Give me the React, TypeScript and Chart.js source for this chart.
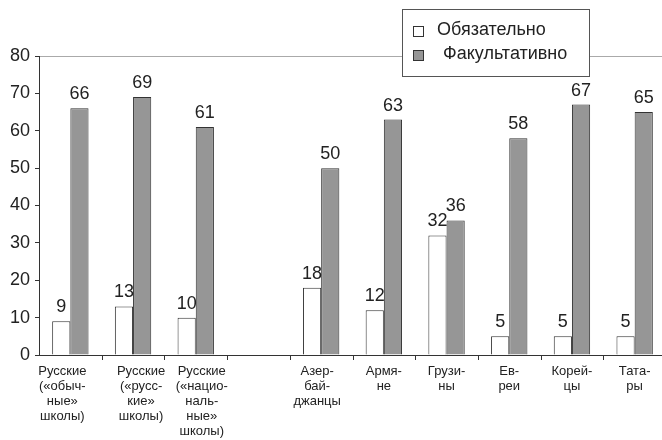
import React, { useEffect, useRef } from "react";
import { Chart, registerables } from "chart.js";

Chart.register(...registerables);

const categories: string[][] = [
  ["Русские", "(«обыч-", "ные»", "школы)"],
  ["Русские", "(«русс-", "кие»", "школы)"],
  ["Русские", "(«нацио-", "наль-", "ные»", "школы)"],
  [""],
  ["Азер-", "бай-", "джанцы"],
  ["Армя-", "не"],
  ["Грузи-", "ны"],
  ["Ев-", "реи"],
  ["Корей-", "цы"],
  ["Тата-", "ры"],
];
const mandatory: (number | null)[] = [9, 13, 10, null, 18, 12, 32, 5, 5, 5];
const optional: (number | null)[] = [66, 69, 61, null, 50, 63, 36, 58, 67, 65];
const seriesNames = ["Обязательно", "Факультативно"];
const yMin = 0;
const yMax = 80;
const yStep = 10;

const FONT = "Arial, 'Liberation Sans', sans-serif";
const TEXT = "#222";
// small horizontal nudges of the category captions, as in the original layout
const captionNudge = [-8, 8, 6, 0, -4, 0, 0, 0, 0, 0];

const valueLabels = {
  id: "valueLabels",
  afterDatasetsDraw(chart: any) {
    const ctx = chart.ctx;
    ctx.save();
    ctx.font = `18px ${FONT}`;
    ctx.fillStyle = TEXT;
    ctx.textAlign = "center";
    ctx.textBaseline = "bottom";
    chart.data.datasets.forEach((ds: any, di: number) => {
      const meta = chart.getDatasetMeta(di);
      meta.data.forEach((bar: any, i: number) => {
        const v = ds.data[i];
        if (v === null || v === undefined) return;
        ctx.fillText(String(v), bar.x, bar.y - 5);
      });
    });
    ctx.restore();
  },
};

const categoryAxis = {
  id: "categoryAxis",
  afterDraw(chart: any) {
    const x = chart.scales.x;
    const ctx = chart.ctx;
    const labels = chart.data.labels as string[][];
    const n = labels.length;
    const bottom = chart.chartArea.bottom;
    const half = (x.getPixelForValue(1) - x.getPixelForValue(0)) / 2;
    ctx.save();
    ctx.strokeStyle = "#333";
    ctx.lineWidth = 1;
    ctx.beginPath();
    for (let i = 1; i <= n; i++) {
      const px = Math.round(x.getPixelForValue(i) - half) + 0.5;
      ctx.moveTo(px, bottom);
      ctx.lineTo(px, bottom + 5);
    }
    ctx.stroke();
    ctx.font = `13px ${FONT}`;
    ctx.fillStyle = TEXT;
    ctx.textAlign = "center";
    ctx.textBaseline = "middle";
    labels.forEach((lines, i) => {
      const cx = x.getPixelForValue(i) + captionNudge[i];
      lines.forEach((line, j) => {
        ctx.fillText(line, cx, bottom + 16 + j * 15);
      });
    });
    ctx.restore();
  },
};

const boxLegend = {
  id: "boxLegend",
  afterDraw(chart: any) {
    const ctx = chart.ctx;
    ctx.save();
    const x = 402.5, y = 9.5, w = 187, h = 67;
    ctx.fillStyle = "#fff";
    ctx.fillRect(x, y, w, h);
    ctx.strokeStyle = "#555";
    ctx.lineWidth = 1;
    ctx.strokeRect(x, y, w, h);
    ctx.font = `18px ${FONT}`;
    ctx.textBaseline = "middle";
    ctx.textAlign = "left";
    const rows = [
      { fill: "#ffffff", sy: 26, ty: 30, tx: 437 },
      { fill: "#969696", sy: 50, ty: 54, tx: 443 },
    ];
    rows.forEach((r, i) => {
      ctx.fillStyle = r.fill;
      ctx.fillRect(413.5, r.sy + 0.5, 10, 10);
      ctx.strokeStyle = "#333";
      ctx.strokeRect(413.5, r.sy + 0.5, 10, 10);
      ctx.fillStyle = TEXT;
      ctx.fillText(seriesNames[i], r.tx, r.ty);
    });
    ctx.restore();
  },
};

export default function App() {
  const ref = useRef<HTMLCanvasElement>(null);
  useEffect(() => {
    if (!ref.current) return;
    const chart = new Chart(ref.current, {
      type: "bar",
      data: {
        labels: categories,
        datasets: [
          {
            label: seriesNames[0],
            data: mandatory,
            backgroundColor: "#ffffff",
            borderColor: "#333",
            borderWidth: 1,
          },
          {
            label: seriesNames[1],
            data: optional,
            backgroundColor: "#969696",
            borderColor: "#333",
            borderWidth: 1,
          },
        ],
      },
      options: {
        responsive: false,
        animation: false,
        devicePixelRatio: 1,
        layout: { padding: { top: 56, left: 0, right: 0, bottom: 0 } },
        datasets: { bar: { categoryPercentage: 0.58, barPercentage: 1 } },
        plugins: {
          legend: { display: false },
          tooltip: { enabled: false },
        },
        scales: {
          x: {
            grid: { display: false, drawTicks: false },
            border: { display: true, color: "#333", width: 1 },
            ticks: { display: false },
            afterFit(scale: any) {
              scale.height = 85;
            },
          },
          y: {
            min: yMin,
            max: yMax,
            ticks: {
              stepSize: yStep,
              color: TEXT,
              padding: 5,
              font: { family: FONT, size: 18 },
            },
            grid: {
              color: (c: any) => (c.tick && c.tick.value === yMax ? "#aaa" : "transparent"),
              tickColor: "#333",
              tickLength: 4,
            },
            border: { display: true, color: "#333", width: 1 },
            afterFit(scale: any) {
              scale.width = 39;
            },
          },
        },
      },
      plugins: [valueLabels, categoryAxis, boxLegend],
    });
    return () => chart.destroy();
  }, []);
  return (
    <div style={{ position: "absolute", left: 0, top: 0, width: 662, height: 440, overflow: "hidden", background: "#fff" }}>
      <canvas ref={ref} width={666} height={440} style={{ display: "block" }} />
    </div>
  );
}
